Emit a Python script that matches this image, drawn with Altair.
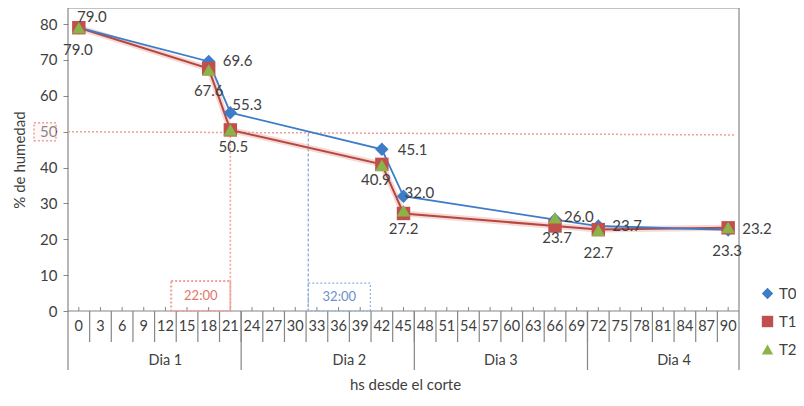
import altair as alt
import pandas as pd

# ---------------- data ----------------
hour_ticks = list(range(0, 91, 3))
days = ["Dia 1", "Dia 2", "Dia 3", "Dia 4"]
day_bounds = [-1.5, 22.5, 46.5, 70.5, 91.5]
day_label_at = [12, 37.5, 58.5, 82.5]

sample_hours = [0, 18, 21, 42, 45, 66, 72, 90]
t0 = [79.0, 69.6, 55.3, 45.1, 32.0, 25.5, 23.7, 22.6]
t1 = [79.0, 67.6, 50.5, 40.9, 27.2, 23.7, 22.7, 23.2]
t2 = [79.0, 67.2, 50.5, 40.6, 28.0, 26.0, 22.5, 23.3]
series = ["T0", "T1", "T2"]
colors = ["#3d7cc9", "#c0504d", "#8cb347"]
shapes = ["diamond", "square", "triangle-up"]

# data labels: series, hour, dx, dy, align
labels = [
    ("T0", 0, 13, -11, "center"), ("T1", 0, -1, 22, "center"),
    ("T0", 18, 14, 0, "left"), ("T1", 18, 0, 22, "center"),
    ("T0", 21, 2, -8, "left"), ("T1", 21, 3, 17, "center"),
    ("T0", 42, 16, 1, "left"), ("T1", 42, -6, 16, "center"),
    ("T0", 45, 1, -3, "left"), ("T1", 45, 0, 16, "center"),
    ("T2", 66, 9, -1, "left"), ("T1", 66, 2, 12, "center"),
    ("T0", 72, 14, 0, "left"), ("T1", 72, 0, 23, "center"),
    ("T1", 90, 14, 1, "left"), ("T2", 90, -1, 24, "center"),
]

# annotations
threshold = 50.0
threshold_right = 49.1
red_time = 21.0
red_box = [12.8, 21.0, 8.4]
red_text = "22:00"
blue_time = 31.8
blue_box = [31.8, 40.4, 7.8]
blue_text = "32:00"

W, H = 671, 303
FONT = "Lato"
TXT = "#404040"
GRID = "#868686"

rows = []
for s, vals in zip(series, [t0, t1, t2]):
    for h, v in zip(sample_hours, vals):
        rows.append({"series": s, "h": h, "v": v})
df = pd.DataFrame(rows)

xs = alt.Scale(domain=[-1.5, 91.5], nice=False, zero=False)
ys = alt.Scale(domain=[0, 84.5], nice=False, zero=True)
yaxis = alt.Axis(values=list(range(0, 81, 10)), domain=False, grid=False,
                 tickColor=GRID, tickSize=5, labelFontSize=15, labelFont=FONT,
                 labelColor=TXT, labelPadding=6, title="% de humedad",
                 titleFont=FONT, titleFontSize=15, titleFontWeight="normal",
                 titleColor=TXT, titlePadding=12)


def X(f):
    return alt.X(f, type="quantitative", scale=xs, axis=None)


def Y(f):
    return alt.Y(f, type="quantitative", scale=ys, axis=yaxis)


layers = []

# frame: top border, left/right lines, bottom axis line
frame_top = alt.Chart(pd.DataFrame({"a": [day_bounds[0]], "b": [day_bounds[-1]]})).mark_rule(
    color=GRID, strokeWidth=1.2).encode(x=X("a"), x2="b", y=alt.value(0))
frame_bottom = alt.Chart(pd.DataFrame({"a": [day_bounds[0]], "b": [day_bounds[-1]]})).mark_rule(
    color=GRID, strokeWidth=1.2).encode(x=X("a"), x2="b", y=alt.value(H))
frame_sides = alt.Chart(pd.DataFrame({"a": [day_bounds[0], day_bounds[-1]]})).mark_rule(
    color=GRID, strokeWidth=1.2).encode(x=X("a"), y=alt.value(0), y2=alt.value(H + 59))
day_sep = alt.Chart(pd.DataFrame({"a": day_bounds[1:-1]})).mark_rule(
    color=GRID, strokeWidth=1.2).encode(x=X("a"), y=alt.value(H), y2=alt.value(H + 59))
tick_sep = alt.Chart(pd.DataFrame({"a": [h + 1.5 for h in hour_ticks[:-1]]})).mark_rule(
    color=GRID, strokeWidth=1.2).encode(x=X("a"), y=alt.value(H), y2=alt.value(H + 31))
up_ticks = alt.Chart(pd.DataFrame({"a": hour_ticks})).mark_rule(
    color=GRID, strokeWidth=1).encode(x=X("a"), y=alt.value(H - 4), y2=alt.value(H))
tick_labels = alt.Chart(pd.DataFrame({"a": hour_ticks})).mark_text(
    font=FONT, fontSize=14.5, color=TXT, baseline="middle").encode(
    x=X("a"), y=alt.value(H + 16), text="a:N")
day_labels = alt.Chart(pd.DataFrame({"a": day_label_at, "d": days})).mark_text(
    font=FONT, fontSize=14.5, color=TXT, baseline="middle").encode(
    x=X("a"), y=alt.value(H + 50), text="d:N")
x_title = alt.Chart(pd.DataFrame({"t": ["hs desde el corte"]})).mark_text(
    font=FONT, fontSize=15, color=TXT, baseline="middle").encode(
    x=alt.value(W / 2 + 2), y=alt.value(H + 74), text="t:N")

layers += [frame_top, frame_bottom, frame_sides, day_sep, tick_sep, up_ticks,
           tick_labels, day_labels, x_title]

# annotations
thr = alt.Chart(pd.DataFrame({"a": [day_bounds[0]], "b": [91.0], "y": [threshold], "y2": [threshold_right]})).mark_rule(
    color="#f0a098", strokeWidth=1.5, strokeDash=[2, 2]).encode(x=X("a"), x2="b", y=Y("y"), y2="y2")
red_v = alt.Chart(pd.DataFrame({"a": [red_time], "y": [threshold], "y2": [0]})).mark_rule(
    color="#f0a098", strokeWidth=1.5, strokeDash=[2, 2]).encode(x=X("a"), y=Y("y"), y2="y2")
blue_v = alt.Chart(pd.DataFrame({"a": [blue_time], "y": [threshold - 0.5], "y2": [0]})).mark_rule(
    color="#7fa5d8", strokeWidth=1.2, strokeDash=[3, 2]).encode(x=X("a"), y=Y("y"), y2="y2")
red_rect = alt.Chart(pd.DataFrame({"a": [red_box[0]], "b": [red_box[1]], "y": [red_box[2]], "y2": [0]})).mark_rect(
    fill=None, stroke="#f0a098", strokeWidth=2, strokeDash=[2, 2]).encode(x=X("a"), x2="b", y=Y("y"), y2="y2")
red_lbl = alt.Chart(pd.DataFrame({"a": [(red_box[0] + red_box[1]) / 2], "y": [red_box[2] / 2], "t": [red_text]})).mark_text(
    font=FONT, fontSize=13, color="#e0766c", baseline="middle").encode(x=X("a"), y=Y("y"), text="t:N")
blue_rect = alt.Chart(pd.DataFrame({"a": [blue_box[0]], "b": [blue_box[1]], "y": [blue_box[2]], "y2": [0]})).mark_rect(
    fill=None, stroke="#8fb0e0", strokeWidth=1.2, strokeDash=[2, 2]).encode(x=X("a"), x2="b", y=Y("y"), y2="y2")
blue_lbl = alt.Chart(pd.DataFrame({"a": [(blue_box[0] + blue_box[1]) / 2], "y": [blue_box[2] / 2], "t": [blue_text]})).mark_text(
    font=FONT, fontSize=13, color="#6a8fc8", baseline="middle").encode(x=X("a"), y=Y("y"), text="t:N")
tick_box = alt.Chart(pd.DataFrame({"y": [threshold + 2.5], "y2": [threshold - 2.5]})).mark_rect(
    fill="#fdeeee", fillOpacity=0.4, stroke="#f0a098", strokeWidth=1.5, strokeDash=[2, 2]).encode(
    x=alt.value(-34), x2=alt.value(-12), y=Y("y"), y2="y2")

layers += [thr, red_v, blue_v, red_rect, red_lbl, blue_rect, blue_lbl, tick_box]

# lines
base = alt.Chart(df)
glow = base.transform_filter(alt.datum.series == "T1").mark_line(
    color="#eaa9a3", strokeWidth=6, opacity=0.45).encode(x=X("h"), y=Y("v"))
line1 = base.transform_filter(alt.datum.series == "T1").mark_line(
    color="#b5473f", strokeWidth=2).encode(x=X("h"), y=Y("v"))
line0 = base.transform_filter(alt.datum.series == "T0").mark_line(
    color="#3d7cc9", strokeWidth=1.8).encode(x=X("h"), y=Y("v"))
leg = alt.Legend(title=None, orient="none", legendX=692, legendY=278,
                 labelFont=FONT, labelFontSize=15, labelColor=TXT,
                 symbolSize=130, rowPadding=12, labelOffset=4)
points = base.mark_point(filled=True, opacity=1, size=180, strokeWidth=1.5).encode(
    x=X("h"), y=Y("v"),
    color=alt.Color("series:N", scale=alt.Scale(domain=series, range=colors), legend=leg),
    shape=alt.Shape("series:N", scale=alt.Scale(domain=series, range=shapes), legend=leg),
)
layers += [glow, line1, line0, points]

# data labels
for s, h, dx, dy, al in labels:
    lab = base.transform_filter((alt.datum.series == s) & (alt.datum.h == h)).mark_text(
        font=FONT, fontSize=15, color=TXT, dx=dx, dy=dy, align=al, baseline="middle").encode(
        x=X("h"), y=Y("v"), text=alt.Text("v:Q", format=".1f"))
    layers.append(lab)

chart = alt.layer(*layers).properties(
    width=W, height=H,
    autosize=alt.AutoSizeParams(type="none"),
    padding={"left": 60, "top": 0, "right": 804 - 16 - 60 - W, "bottom": 406 - 16 - H},
).configure_view(stroke=None)

chart.save("out.html", embed_options={"renderer": "svg", "actions": False})
